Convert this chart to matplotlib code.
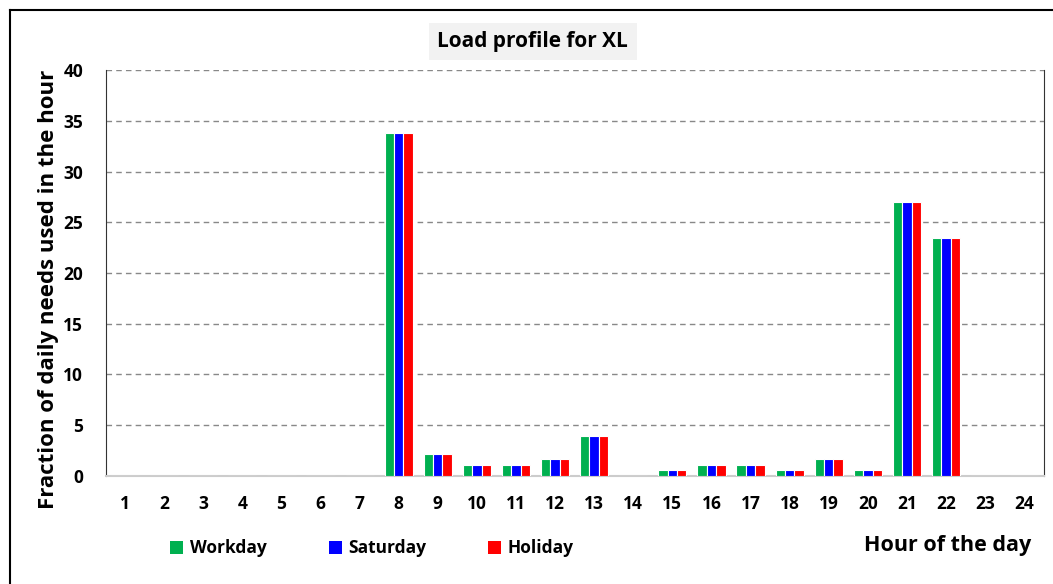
import numpy as np
import matplotlib.pyplot as plt
from matplotlib.lines import Line2D
from matplotlib.patches import Patch

hours = list(range(1, 25))
workday = [0, 0, 0, 0, 0, 0, 0, 33.8, 2.2, 1.1, 1.1, 1.7, 3.9, 0,
           0.6, 1.1, 1.1, 0.6, 1.7, 0.6, 27.0, 23.5, 0, 0]
saturday = list(workday)
holiday = list(workday)
series = [("Workday", workday, "#00b050"),
          ("Saturday", saturday, "#0000ff"),
          ("Holiday", holiday, "#ff0000")]

plt.rcParams['font.family'] = ['Open Sans', 'DejaVu Sans']
plt.rcParams['font.weight'] = 'bold'

fig = plt.figure(figsize=(10.53, 5.84), dpi=100)
ax = fig.add_axes([0.1002, 0.185, 0.891, 0.695])

x = np.arange(len(hours))
w = 0.24
for i, (name, vals, col) in enumerate(series):
    ax.bar(x + (i - 1) * w, vals, width=w, color=col, edgecolor='white',
           linewidth=0.8, zorder=3, label=name)

ax.set_xlim(-0.5, len(hours) - 0.5)
ax.set_ylim(0, 40)
ax.set_yticks(range(0, 41, 5))
ax.set_xticks(x)
ax.set_xticklabels([str(h) for h in hours])
ax.tick_params(axis='both', length=0, labelsize=12.5)
ax.tick_params(axis='x', pad=14)
ax.tick_params(axis='y', pad=16)
for lab in ax.get_xticklabels() + ax.get_yticklabels():
    lab.set_fontweight('bold')
ax.yaxis.grid(True, linestyle=(0, (4, 3)), color='#888888', linewidth=1.0, zorder=0)
ax.set_axisbelow(True)
ax.spines['top'].set_visible(False)
ax.spines['left'].set_color('#333333')
ax.spines['right'].set_color('#333333')
ax.spines['bottom'].set_color('#cccccc')
ax.spines['bottom'].set_linewidth(1.5)

ax.set_ylabel("Fraction of daily needs used in the hour", fontsize=16,
              fontweight='bold')
ax.yaxis.set_label_coords(-0.05, 0.46)
fig.text(0.979, 0.066, "Hour of the day", fontsize=15.5, fontweight='bold',
         ha='right', va='center')

fig.text(0.506, 0.929, "Load profile for XL", fontsize=15, fontweight='bold',
         ha='center', va='center',
         bbox=dict(boxstyle='square,pad=0.4', facecolor='#f2f2f2', edgecolor='none'))

handles = [Patch(facecolor=c, edgecolor='none', label=n) for n, _, c in series]
fig.legend(handles=handles, loc='center left', bbox_to_anchor=(0.147, 0.061),
           ncol=3, frameon=False, prop={'size': 12.5, 'weight': 'bold'},
           handlelength=0.75, handleheight=0.75, handletextpad=0.35,
           columnspacing=3.6)

# outer frame (left and top edges)
fig.add_artist(Line2D([10 / 1053, 10 / 1053], [0, 1 - 10 / 584],
                      transform=fig.transFigure, color='black', linewidth=1.5))
fig.add_artist(Line2D([10 / 1053, 1], [1 - 10 / 584, 1 - 10 / 584],
                      transform=fig.transFigure, color='black', linewidth=1.5))

fig.savefig("out.png", dpi=100)
